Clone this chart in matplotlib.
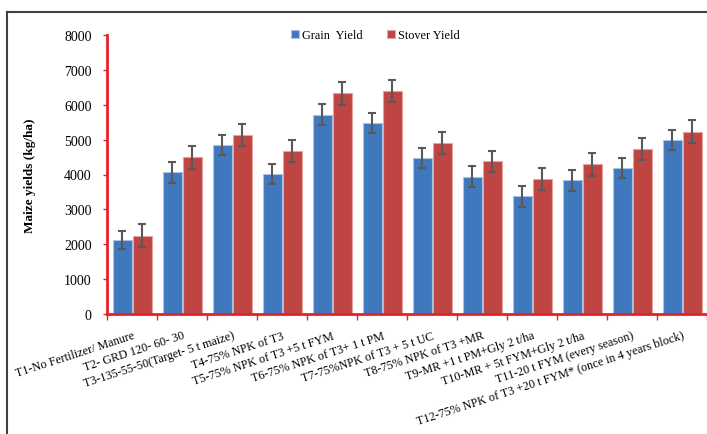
import numpy as np
import matplotlib.pyplot as plt
from matplotlib.lines import Line2D

# ===== Datos =====
treatments = [
    "T1-No Fertilizer/ Manure",
    "T2- GRD 120- 60- 30",
    "T3-135-55-50(Target- 5 t maize)",
    "T4-75% NPK of T3",
    "T5-75% NPK of T3 +5 t FYM",
    "T6-75% NPK of T3+ 1 t PM",
    "T7-75%NPK of T3 + 5 t UC",
    "T8-75% NPK of T3 +MR",
    "T9-MR +1 t PM+Gly 2 t/ha",
    "T10-MR + 5t FYM+Gly 2 t/ha",
    "T11-20 t FYM (every season)",
    "T12-75% NPK of T3 +20 t FYM* (once in 4 years block)",
]
grain   = [2120, 4060, 4840, 4010, 5720, 5470, 4480, 3935, 3375, 3830, 4178, 4990]
grain_e = [270, 290, 280, 295, 290, 280, 290, 300, 295, 290, 290, 300]
stover   = [2245, 4490, 5130, 4680, 6330, 6390, 4890, 4375, 3860, 4290, 4720, 5225]
stover_e = [325, 330, 315, 315, 335, 325, 315, 305, 315, 325, 315, 325]
yticks = [0, 1000, 2000, 3000, 4000, 5000, 6000, 7000, 8000]

plt.rcParams['font.family'] = ['Liberation Serif', 'DejaVu Serif']

RED = '#E8202A'
x = np.arange(len(treatments))
w = 0.38

fig = plt.figure(figsize=(7.07, 4.35), dpi=100)
ax = fig.add_axes([107/707, 1 - 315/435, 600/707, (315 - 36)/435])

ax.bar(x - 0.2, grain, w, color='#3F78BD', edgecolor='#A9C4E6', linewidth=0.8,
       yerr=grain_e, error_kw=dict(ecolor='#595959', elinewidth=1.5, capsize=3, capthick=1.5),
       label='Grain  Yield')
ax.bar(x + 0.2, stover, w, color='#BF4543', edgecolor='#E8A3A1', linewidth=0.8,
       yerr=stover_e, error_kw=dict(ecolor='#595959', elinewidth=1.5, capsize=3, capthick=1.5),
       label='Stover Yield')

ax.set_xlim(-0.5, len(treatments) - 0.5)
ax.set_ylim(0, 8000)
ax.set_yticks(yticks)
ax.set_yticklabels([str(v) for v in yticks], fontsize=10)
ax.set_xticks(x)
ax.set_xticklabels(treatments, rotation=18, ha='right', va='top',
                   rotation_mode='anchor', fontsize=8.7)
ax.set_xticks(np.arange(len(treatments) + 1) - 0.5, minor=True)
ax.tick_params(axis='x', which='major', length=0, pad=11)
ax.tick_params(axis='x', which='minor', length=4, color=RED, width=1)
ax.tick_params(axis='y', length=3, color=RED, width=1, pad=8)

for s in ['top', 'right']:
    ax.spines[s].set_visible(False)
for s in ['left', 'bottom']:
    ax.spines[s].set_color(RED)
    ax.spines[s].set_linewidth(2)

ax.set_ylabel('Maize yields (kg/ha)', fontsize=9.5, fontweight='bold', labelpad=20)

ax.legend(loc='center', bbox_to_anchor=(0.448, 1.0), ncol=2, frameon=False,
          fontsize=8.8, handlelength=0.6, handleheight=0.6, handletextpad=0.3,
          columnspacing=2.0)

# marco de la figura
fig.add_artist(Line2D([7/707, 7/707], [0, 1 - 13/435], transform=fig.transFigure,
                      color='#404040', linewidth=1.5))
fig.add_artist(Line2D([7/707, 1], [1 - 13/435, 1 - 13/435], transform=fig.transFigure,
                      color='#404040', linewidth=1.5))

fig.savefig('out.png', dpi=100)
